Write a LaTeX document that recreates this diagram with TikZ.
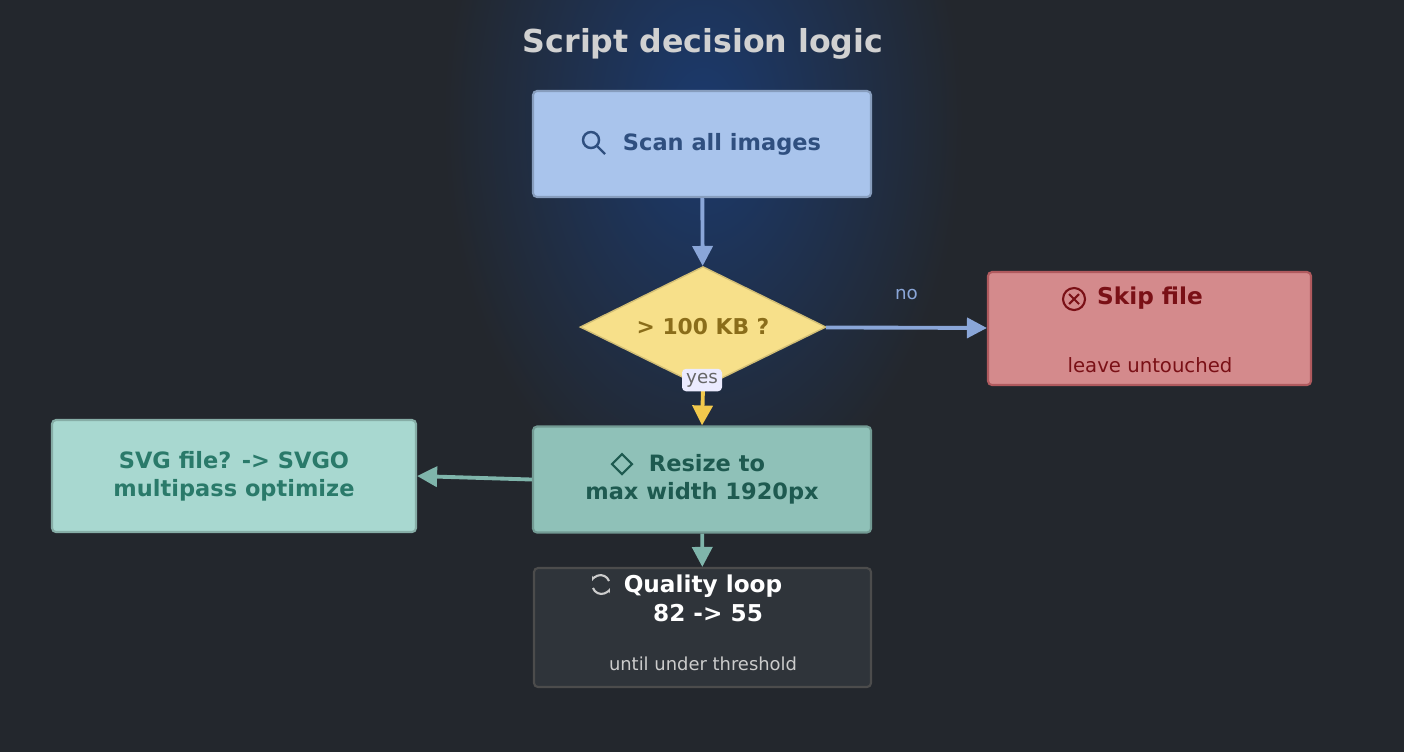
\documentclass[tikz,border=0pt]{standalone}
\usepackage{fontspec}
\setmainfont{DejaVu Sans}
\usetikzlibrary{shapes.geometric,arrows.meta}
\definecolor{bg}{HTML}{23272D}
\definecolor{glow}{HTML}{1B3A6E}
\definecolor{scanf}{HTML}{A9C4EC}\definecolor{scant}{HTML}{2F4F7F}
\definecolor{dia}{HTML}{F7E08A}\definecolor{diat}{HTML}{8A6D1A}
\definecolor{skipf}{HTML}{D48A8C}\definecolor{skipt}{HTML}{7A1016}\definecolor{skipd}{HTML}{B05A5E}
\definecolor{resf}{HTML}{8FC1B8}\definecolor{rest}{HTML}{1E5A50}
\definecolor{svgf}{HTML}{A8D8D0}\definecolor{svgt}{HTML}{2A7A6A}
\definecolor{qf}{HTML}{2F343A}
\definecolor{blarr}{HTML}{8AA6D8}\definecolor{yarr}{HTML}{F2C94C}\definecolor{tarr}{HTML}{7FB5AB}
\tikzset{
 box/.style={draw, line width=0.6pt, rounded corners=0.04cm, minimum width=3.38cm, minimum height=1.06cm, align=center, font=\fontsize{6.4}{7.9}\selectfont\bfseries},
 arr/.style={line width=1.1pt, -{Triangle[length=0.2cm,width=0.2cm]}},
}
\begin{document}
\begin{tikzpicture}[x=1cm,y=1cm]
\fill[bg] (0,0) rectangle (14.04,-7.52);
\begin{scope}
\clip (0,0) rectangle (14.04,-7.52);
\shade[inner color=glow, outer color=bg] (7.03,-1.2) ellipse (2.6 and 4.0);
\end{scope}
\useasboundingbox (0,0) rectangle (14.04,-7.52);
\node[text=white!82!black, font=\fontsize{9.0}{11}\selectfont\bfseries] (title) at (7.03,-0.44) {Script decision logic};
\node[box, fill=scanf, draw=scanf!80!black, text=scant] (scan) at (7.02,-1.44) {\hspace{0.4cm}Scan all images};
\draw[scant, line width=0.7pt] (5.91,-1.40) circle (0.08) (5.97,-1.46) -- (6.05,-1.54);
\node[diamond, aspect=2.03, fill=dia, draw=dia!85!black, text=diat, minimum width=2.46cm, minimum height=1.21cm, inner sep=0pt, font=\fontsize{6.2}{8}\selectfont\bfseries] (d) at (7.03,-3.27) {> 100 KB ?};
\node[box, minimum width=3.23cm, minimum height=1.13cm, fill=skipf, draw=skipd, text=skipt] (skip) at (11.495,-3.285) {};
\node[text=skipt, font=\fontsize{6.6}{8}\selectfont\bfseries] (skipl) at (11.50,-2.98) {Skip file};
\draw[skipt, line width=0.6pt] (10.74,-2.99) circle (0.11) (10.69,-2.94)--(10.79,-3.04) (10.69,-3.04)--(10.79,-2.94);
\node[text=skipt, font=\fontsize{5.6}{7}\selectfont] (skips) at (11.50,-3.65) {leave untouched};
\node[box, fill=resf, draw=resf!80!black, text=rest] (res) at (7.02,-4.795) {\hspace{0.1cm}Resize to\\max width 1920px};
\draw[rest, line width=0.6pt] (6.22,-4.54) -- (6.32,-4.64) -- (6.22,-4.74) -- (6.12,-4.64) -- cycle;
\node[box, minimum width=3.64cm, minimum height=1.12cm, fill=svgf, draw=svgf!80!black, text=svgt] (svg) at (2.34,-4.76) {SVG file? -> SVGO\\multipass optimize};
\node[box, minimum width=3.37cm, minimum height=1.19cm, fill=qf, draw=black!70, text=white] (q) at (7.025,-6.275) {};
\node[text=white, font=\fontsize{6.6}{8.2}\selectfont\bfseries, align=center] (ql) at (7.03,-5.98) {Quality loop\\\hspace{0.1cm}82 -> 55};
\draw[white!80!black, line width=0.6pt, -{Stealth[length=0.05cm]}] (6.09,-5.81) arc (20:160:0.09);
\draw[white!80!black, line width=0.6pt, -{Stealth[length=0.05cm]}] (5.93,-5.88) arc (200:340:0.09);
\node[text=white!80!black, font=\fontsize{5.1}{6.5}\selectfont] (qs) at (7.03,-6.64) {until under threshold};
\draw[arr, blarr] (scan) -- (d);
\draw[arr, blarr] (d) -- node[above, pos=0.50, yshift=0.14cm, text=blarr, font=\fontsize{5.2}{6}\selectfont] {no} (skip);
\draw[arr, yarr] (d.south) -- (res.north);
\node[fill=white!92!blue, rounded corners=0.04cm, inner sep=1.2pt, text=black!60, font=\fontsize{5.2}{6}\selectfont] (yes) at (7.02,-3.80) {yes};
\draw[arr, tarr] (res.west) -- (svg.east);
\draw[arr, tarr] (res) -- (q);
\end{tikzpicture}
\end{document}
